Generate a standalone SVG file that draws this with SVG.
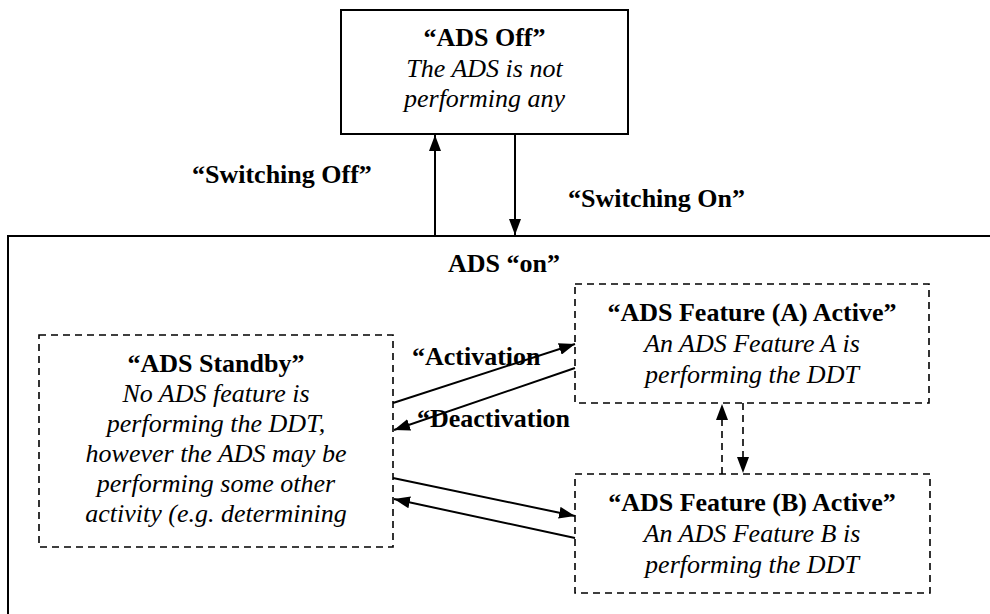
<svg xmlns="http://www.w3.org/2000/svg" width="990" height="614" viewBox="0 0 990 614">
<defs>
<marker id="ah" viewBox="0 0 16 12" refX="16" refY="6" markerWidth="16" markerHeight="12" markerUnits="userSpaceOnUse" orient="auto">
<path d="M0,0 L16,6 L0,12 Z" fill="#000"/>
</marker>
</defs>
<rect width="990" height="614" fill="#fff"/>
<g id="ads-on">
<rect fill="#fff" stroke="#000" stroke-width="2" x="8" y="236" width="1000" height="400"/>
<text font-family="Liberation Serif" font-size="26" font-weight="bold" text-anchor="middle" x="504" y="272">ADS &#8220;on&#8221;</text>
</g>
<g id="ads-off">
<rect fill="#fff" stroke="#000" stroke-width="2" x="341" y="10" width="287" height="124"/>
<text font-family="Liberation Serif" font-size="26" font-weight="bold" text-anchor="middle" x="484.5" y="46">&#8220;ADS Off&#8221;</text>
<text font-family="Liberation Serif" font-size="26" font-style="italic" text-anchor="middle" x="484.5" y="77">The ADS is not</text>
<text font-family="Liberation Serif" font-size="26" font-style="italic" text-anchor="middle" x="484.5" y="107">performing any</text>
</g>
<g id="ads-standby">
<rect fill="#fff" stroke="#000" stroke-width="1.6" stroke-dasharray="7 5" x="39" y="335" width="354" height="212"/>
<text font-family="Liberation Serif" font-size="26" font-weight="bold" text-anchor="middle" x="216" y="372">&#8220;ADS Standby&#8221;</text>
<text font-family="Liberation Serif" font-size="26" font-style="italic" text-anchor="middle" x="216" y="402">No ADS feature is</text>
<text font-family="Liberation Serif" font-size="26" font-style="italic" text-anchor="middle" x="216" y="432">performing the DDT,</text>
<text font-family="Liberation Serif" font-size="26" font-style="italic" text-anchor="middle" x="216" y="462">however the ADS may be</text>
<text font-family="Liberation Serif" font-size="26" font-style="italic" text-anchor="middle" x="216" y="492">performing some other</text>
<text font-family="Liberation Serif" font-size="26" font-style="italic" text-anchor="middle" x="216" y="522">activity (e.g. determining</text>
</g>
<g id="feature-a">
<rect fill="#fff" stroke="#000" stroke-width="1.6" stroke-dasharray="7 5" x="575" y="284" width="354" height="119"/>
<text font-family="Liberation Serif" font-size="26" font-weight="bold" text-anchor="middle" x="752" y="321">&#8220;ADS Feature (A) Active&#8221;</text>
<text font-family="Liberation Serif" font-size="26" font-style="italic" text-anchor="middle" x="752" y="352">An ADS Feature A is</text>
<text font-family="Liberation Serif" font-size="26" font-style="italic" text-anchor="middle" x="752" y="383">performing the DDT</text>
</g>
<g id="feature-b">
<rect fill="#fff" stroke="#000" stroke-width="1.6" stroke-dasharray="7 5" x="575" y="474" width="355" height="119"/>
<text font-family="Liberation Serif" font-size="26" font-weight="bold" text-anchor="middle" x="752" y="511">&#8220;ADS Feature (B) Active&#8221;</text>
<text font-family="Liberation Serif" font-size="26" font-style="italic" text-anchor="middle" x="752" y="542">An ADS Feature B is</text>
<text font-family="Liberation Serif" font-size="26" font-style="italic" text-anchor="middle" x="752" y="573">performing the DDT</text>
</g>
<g id="connectors" fill="none" stroke="#000" stroke-width="2">
<line x1="435" y1="236" x2="435" y2="135" marker-end="url(#ah)"/>
<line x1="515" y1="135" x2="515" y2="235" marker-end="url(#ah)"/>
<line x1="393" y1="403" x2="575" y2="344" marker-end="url(#ah)"/>
<line x1="575" y1="368" x2="394" y2="430" marker-end="url(#ah)"/>
<line x1="393" y1="478" x2="575" y2="516" marker-end="url(#ah)"/>
<line x1="575" y1="538" x2="394" y2="499" marker-end="url(#ah)"/>
<line stroke-width="1.6" stroke-dasharray="7 5" x1="722" y1="474" x2="722" y2="404" marker-end="url(#ah)"/>
<line stroke-width="1.6" stroke-dasharray="7 5" x1="743" y1="403" x2="743" y2="473" marker-end="url(#ah)"/>
</g>
<g id="connector-labels" font-family="Liberation Serif" font-size="26" font-weight="bold" fill="#000">
<text x="192" y="183">&#8220;Switching Off&#8221;</text>
<text x="568" y="207">&#8220;Switching On&#8221;</text>
<text x="412" y="365">&#8220;Activation</text>
<text x="417" y="427">&#8220;Deactivation</text>
</g>
</svg>
